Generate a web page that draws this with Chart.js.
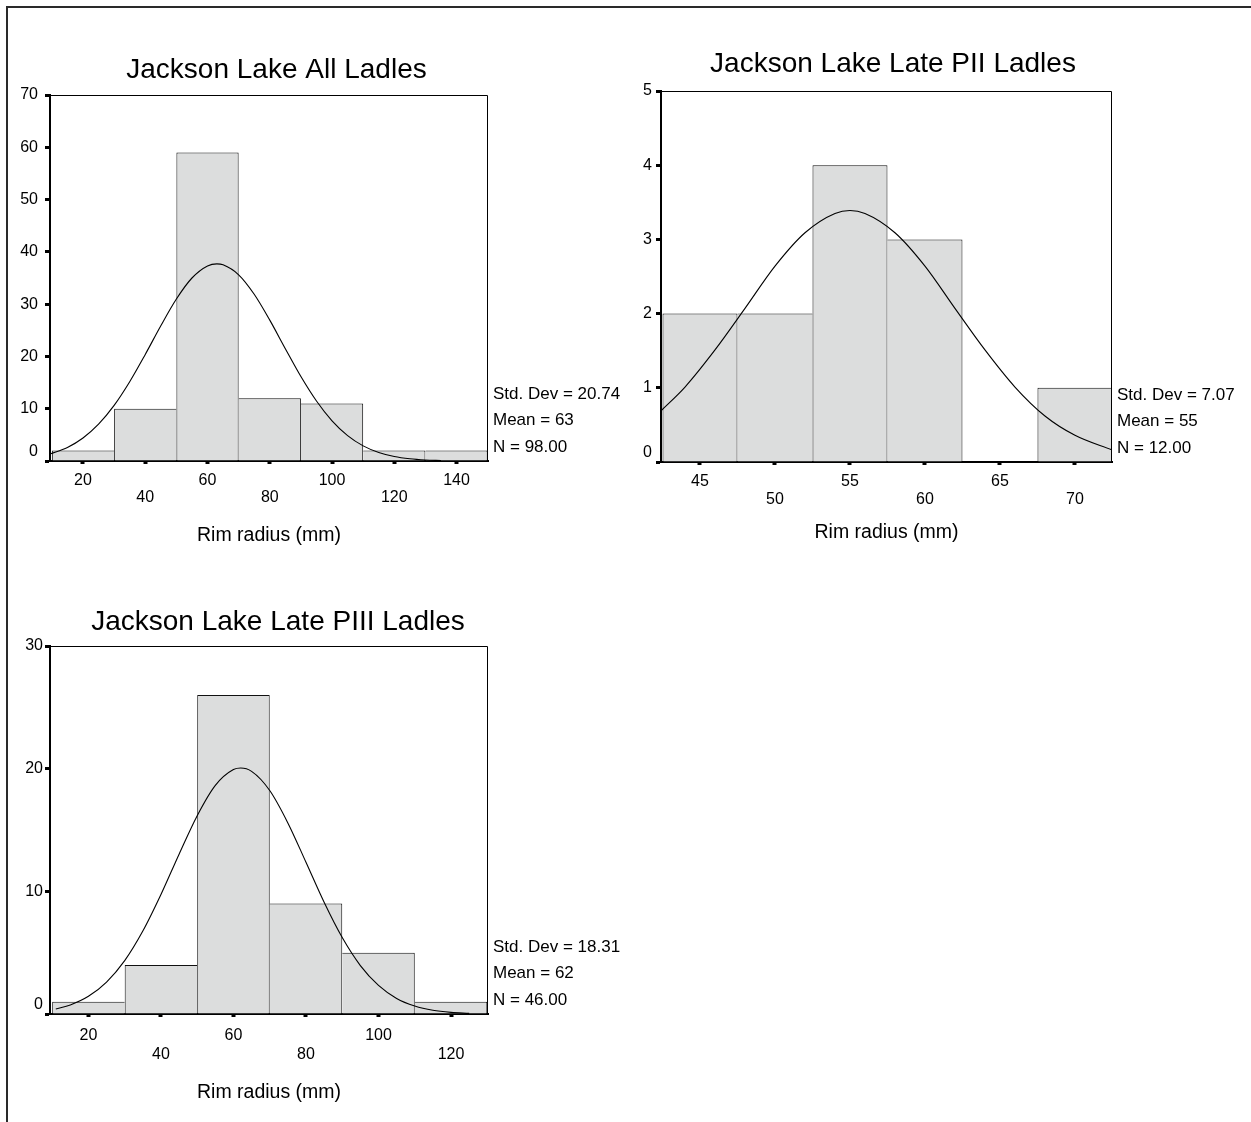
<!DOCTYPE html>
<html><head><meta charset="utf-8">
<script src="https://cdn.jsdelivr.net/npm/chart.js@4.4.1/dist/chart.umd.min.js"></script>
<style>
html,body{margin:0;padding:0;background:#fff;}
#page{position:relative;width:1251px;height:1122px;overflow:hidden;background:#fff;}
#frame{position:absolute;left:6px;top:6px;width:1260px;height:1130px;border-top:2px solid #2a2a2a;border-left:2px solid #2a2a2a;}
canvas{position:absolute;}
</style></head><body>
<div id="page"><div id="frame"></div>
<canvas id="c1" width="640" height="560" style="left:0;top:0"></canvas>
<canvas id="c2" width="651" height="560" style="left:600px;top:0"></canvas>
<canvas id="c3" width="640" height="562" style="left:0;top:560px"></canvas>
</div>
<script>
// ---------- DATA ----------
// Panel 1: All ladles
const allTitle = 'Jackson Lake All Ladles';
const allCenters = [20, 40, 60, 80, 100, 120, 140];
const allCounts = [2, 10, 59, 12, 11, 2, 2];
const allCurveX = [9.4, 15, 20, 25, 30, 35, 40, 45, 50, 55, 60, 63, 65, 70, 75, 80, 85, 90, 95, 100, 105, 110, 115, 120, 125, 130, 135];
const allCurveY = [1.33, 2.59, 4.40, 7.04, 10.63, 15.16, 20.38, 25.87, 30.98, 35.0, 37.31, 37.7, 37.52, 35.61, 31.89, 26.94, 21.48, 16.15, 11.47, 7.68, 4.85, 2.89, 1.63, 0.86, 0.43, 0.20, 0.09];
const allXTicks = [20, 40, 60, 80, 100, 120, 140];
const allYTicks = [0, 10, 20, 30, 40, 50, 60, 70];
const allXRange = [9.4, 150.1];
const allStats = ['Std. Dev = 20.74', 'Mean = 63', 'N = 98.00'];

// Panel 2: Late PII ladles
const piiTitle = 'Jackson Lake Late PII Ladles';
const piiCenters = [45, 50, 55, 60, 65, 70];
const piiCounts = [2, 2, 4, 3, 0, 1];
const piiCurveX = [42.4, 44, 46, 48, 50, 52, 54, 55, 56, 58, 60, 62, 64, 66, 68, 70, 72.5];
const piiCurveY = [0.69, 1.01, 1.51, 2.07, 2.64, 3.09, 3.35, 3.39, 3.35, 3.09, 2.64, 2.07, 1.51, 1.01, 0.62, 0.36, 0.16];
const piiXTicks = [45, 50, 55, 60, 65, 70];
const piiYTicks = [0, 1, 2, 3, 4, 5];
const piiXRange = [42.4, 72.47];
const piiStats = ['Std. Dev = 7.07', 'Mean = 55', 'N = 12.00'];

// Panel 3: Late PIII ladles
const piiiTitle = 'Jackson Lake Late PIII Ladles';
const piiiCenters = [20, 40, 60, 80, 100, 120];
const piiiCounts = [1, 4, 26, 9, 5, 1];
const piiiCurveX = [11, 15, 20, 25, 30, 35, 40, 45, 50, 55, 60, 62, 65, 70, 75, 80, 85, 90, 95, 100, 105, 110, 115, 120, 125];
const piiiCurveY = [0.41, 0.74, 1.44, 2.60, 4.35, 6.76, 9.74, 13.03, 16.17, 18.64, 19.93, 20.05, 19.78, 18.22, 15.58, 12.37, 9.11, 6.23, 3.95, 2.33, 1.27, 0.65, 0.30, 0.13, 0.05];
const piiiXTicks = [20, 40, 60, 80, 100, 120];
const piiiYTicks = [0, 10, 20, 30];
const piiiXRange = [9.4, 130.2];
const piiiStats = ['Std. Dev = 18.31', 'Mean = 62', 'N = 46.00'];

const axisTitle = 'Rim radius (mm)';

// ---------- RENDERING ----------
const FONT = '"Liberation Sans", Arial, Helvetica, sans-serif';
Chart.defaults.font.family = FONT;
Chart.defaults.color = '#000';

function edgeBorder(ctx) {
  const d = ctx.dataset.data, i = ctx.dataIndex, h = d[i].y;
  const prev = i > 0 ? d[i - 1].y : -1;
  const next = i < d.length - 1 ? d[i + 1].y : -1;
  return { top: 1, bottom: 0, left: prev < h ? 1 : 0, right: next <= h ? 1 : 0 };
}

function makeTextPlugin(L, title, stats) {
  return {
    id: 'panelText',
    afterDraw(chart) {
      const { ctx, chartArea: a } = chart;
      ctx.save();
      ctx.strokeStyle = '#000';
      ctx.lineWidth = 1;
      const t = Math.round(a.top) + 0.5, r = Math.round(a.right) - 0.5;
      ctx.beginPath();
      ctx.moveTo(a.left, t); ctx.lineTo(r, t); ctx.lineTo(r, a.bottom);
      ctx.stroke();
      ctx.fillStyle = '#000';
      ctx.font = '28px ' + FONT;
      ctx.textAlign = 'center';
      ctx.textBaseline = 'alphabetic';
      ctx.fillText(title, L.titleX, L.titleY);
      ctx.font = '17px ' + FONT;
      ctx.textAlign = 'left';
      ctx.textBaseline = 'middle';
      const offs = [67, 40.5, 13.5];
      stats.forEach((s, i) => ctx.fillText(s, a.right + 5, a.bottom - offs[i]));
      ctx.restore();
    }
  };
}

function makeChart(id, L, title, centers, counts, curveX, curveY, xTicks, yTicks, xRange, stats) {
  new Chart(document.getElementById(id), {
    type: 'bar',
    data: {
      datasets: [
        {
          type: 'line',
          data: curveX.map((x, i) => ({ x, y: curveY[i] })),
          borderColor: '#000', borderWidth: 1.1, pointRadius: 0, fill: false,
          cubicInterpolationMode: 'monotone', order: 1
        },
        {
          type: 'bar',
          data: centers.map((c, i) => ({ x: c, y: counts[i] })),
          backgroundColor: '#dcdddd', borderColor: '#111',
          borderWidth: edgeBorder, borderSkipped: false, inflateAmount: 0,
          barPercentage: 1, categoryPercentage: 1, order: 2
        }
      ]
    },
    options: {
      responsive: false, animation: false, devicePixelRatio: 1, events: [],
      layout: { padding: { left: 0, top: L.padTop, right: L.padRight, bottom: 0 } },
      plugins: { legend: { display: false }, tooltip: { enabled: false }, title: { display: false } },
      scales: {
        x: {
          type: 'linear', min: xRange[0], max: xRange[1], offset: false,
          afterBuildTicks: s => { s.ticks = xTicks.map(v => ({ value: v })); },
          afterFit: s => { s.height = L.xAxisH; },
          ticks: {
            autoSkip: false, maxRotation: 0, minRotation: 0, padding: L.xPad, color: '#000',
            font: { size: 16, lineHeight: L.xLH },
            callback: (v, i) => (i % 2 === 0 ? [String(v), ''] : ['', String(v)])
          },
          grid: { display: true, drawOnChartArea: false, drawTicks: true, tickLength: 3, tickWidth: 4, tickColor: '#000', color: '#000', offset: false },
          border: { display: true, color: '#000', width: 2 },
          title: { display: true, text: axisTitle, color: '#000', font: { size: 19.5, lineHeight: 1.2 }, padding: { top: 0, bottom: L.xTitlePad } }
        },
        y: {
          type: 'linear', min: yTicks[0], max: yTicks[yTicks.length - 1],
          afterBuildTicks: s => { s.ticks = yTicks.map(v => ({ value: v })); },
          afterFit: s => { s.width = L.yAxisW; },
          ticks: {
            padding: L.yPad, color: '#000', font: { size: 16, lineHeight: 1.12 },
            callback: v => (v === 0 ? ['0', ''] : String(v))
          },
          grid: { display: true, drawOnChartArea: false, drawTicks: true, tickLength: 5, tickWidth: 3, tickColor: '#000', color: '#000' },
          border: { display: true, color: '#000', width: 2 }
        }
      }
    },
    plugins: [makeTextPlugin(L, title, stats)]
  });
}

makeChart('c1',
  { padTop: 95, padRight: 152, yAxisW: 50, xAxisH: 99, xPad: 8, xLH: 1.06, yPad: 7, xTitlePad: 12.3, titleX: 276.5, titleY: 78 },
  allTitle, allCenters, allCounts, allCurveX, allCurveY, allXTicks, allYTicks, allXRange, allStats);

makeChart('c2',
  { padTop: 91, padRight: 139, yAxisW: 61, xAxisH: 98, xPad: 7.5, xLH: 1.12, yPad: 4, xTitlePad: 15.3, titleX: 293, titleY: 72 },
  piiTitle, piiCenters, piiCounts, piiCurveX, piiCurveY, piiXTicks, piiYTicks, piiXRange, piiStats);

makeChart('c3',
  { padTop: 86, padRight: 152, yAxisW: 50, xAxisH: 108, xPad: 8.5, xLH: 1.2, yPad: 2, xTitlePad: 17.3, titleX: 278, titleY: 70 },
  piiiTitle, piiiCenters, piiiCounts, piiiCurveX, piiiCurveY, piiiXTicks, piiiYTicks, piiiXRange, piiiStats);
</script>
</body></html>
